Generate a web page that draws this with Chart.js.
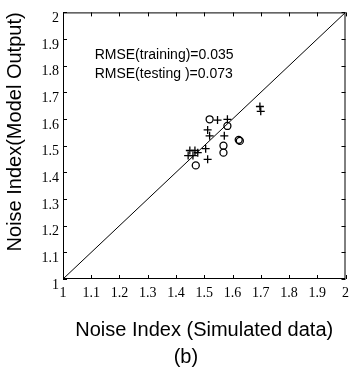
<!DOCTYPE html>
<html>
<head>
<meta charset="utf-8">
<script src="https://cdn.jsdelivr.net/npm/chart.js@4/dist/chart.umd.min.js"></script>
<style>
  html, body { margin: 0; padding: 0; background: #fff; }
  #wrap { width: 355px; height: 368px; }
</style>
</head>
<body>
<div id="wrap"><canvas id="c" width="355" height="368"></canvas></div>
<script>
// ---- data ----
const tickValues = [1, 1.1, 1.2, 1.3, 1.4, 1.5, 1.6, 1.7, 1.8, 1.9, 2];
const tickLabels = ['1', '1.1', '1.2', '1.3', '1.4', '1.5', '1.6', '1.7', '1.8', '1.9', '2'];

// training (+)
const trainX = [1.547, 1.582, 1.512, 1.519, 1.571, 1.505, 1.449, 1.467, 1.477, 1.443, 1.460, 1.512, 1.697, 1.700];
const trainY = [1.596, 1.599, 1.559, 1.537, 1.537, 1.489, 1.482, 1.482, 1.474, 1.463, 1.463, 1.449, 1.647, 1.629];

// testing (o)
const testX = [1.519, 1.582, 1.568, 1.568, 1.470, 1.622, 1.626];
const testY = [1.599, 1.574, 1.500, 1.474, 1.426, 1.522, 1.518];

// 1:1 line
const lineX = [1, 2];
const lineY = [1, 2];

const annotations = ['RMSE(training)=0.035', 'RMSE(testing )=0.073'];
const caption = '(b)';

const toPts = (xs, ys) => xs.map((x, i) => ({ x: x, y: ys[i] }));

const boxTicks = {
  id: 'boxTicks',
  afterDatasetsDraw(chart) {
    const { ctx, chartArea: a, scales: { x, y } } = chart;
    ctx.save();
    ctx.strokeStyle = '#000';
    ctx.lineWidth = 1;
    ctx.strokeRect(a.left + 0.5, a.top + 0.5, a.right - a.left - 1, a.bottom - a.top - 1);
    const L = 4;
    ctx.beginPath();
    tickValues.forEach(v => {
      const px = Math.round(x.getPixelForValue(v)) + 0.5;
      ctx.moveTo(px, a.bottom); ctx.lineTo(px, a.bottom - L);
      ctx.moveTo(px, a.top); ctx.lineTo(px, a.top + L);
      const py = Math.round(y.getPixelForValue(v)) + 0.5;
      ctx.moveTo(a.left, py); ctx.lineTo(a.left + L, py);
      ctx.moveTo(a.right, py); ctx.lineTo(a.right - L, py);
    });
    ctx.stroke();
    // annotation text
    ctx.fillStyle = '#000';
    ctx.font = '14px "Liberation Sans", Arial, sans-serif';
    ctx.textAlign = 'left';
    ctx.textBaseline = 'middle';
    const tx = x.getPixelForValue(1.112);
    ctx.fillText(annotations[0], tx, y.getPixelForValue(1.840));
    ctx.fillText(annotations[1], tx, y.getPixelForValue(1.770));
    // figure caption
    ctx.font = '20px "Liberation Sans", Arial, sans-serif';
    ctx.textAlign = 'center';
    ctx.fillText(caption, x.getPixelForValue(1.435), chart.height - 11);
    ctx.restore();
  }
};

new Chart(document.getElementById('c'), {
  type: 'scatter',
  data: {
    datasets: [
      {
        type: 'line',
        data: toPts(lineX, lineY),
        borderColor: '#000',
        borderWidth: 1,
        pointRadius: 0,
        fill: false,
        tension: 0
      },
      {
        data: toPts(trainX, trainY),
        pointStyle: 'cross',
        pointRadius: 4,
        borderColor: '#000',
        borderWidth: 1.3
      },
      {
        data: toPts(testX, testY),
        pointStyle: 'circle',
        pointRadius: 3.5,
        backgroundColor: 'rgba(255,255,255,0)',
        borderColor: '#000',
        borderWidth: 1.3
      }
    ]
  },
  plugins: [boxTicks],
  options: {
    responsive: false,
    animation: false,
    events: [],
    layout: { padding: { top: 7, right: 5, left: 0, bottom: 0 } },
    plugins: { legend: { display: false }, tooltip: { enabled: false } },
    scales: {
      x: {
        type: 'linear',
        min: 1, max: 2,
        afterBuildTicks(s) { s.ticks = tickValues.map(v => ({ value: v })); },
        afterFit(s) { s.height = 89; },
        grid: { display: false, drawTicks: false },
        border: { display: false },
        ticks: {
          callback: (v, i) => tickLabels[i],
          color: '#000',
          maxRotation: 0,
          autoSkip: false,
          padding: 6,
          font: { family: '"Liberation Serif", "Times New Roman", serif', size: 14 }
        },
        title: {
          display: true,
          text: 'Noise Index (Simulated data)',
          color: '#000',
          font: { family: '"Liberation Sans", Arial, sans-serif', size: 20 },
          padding: { top: 0, bottom: 26 }
        }
      },
      y: {
        type: 'linear',
        min: 1, max: 2,
        afterBuildTicks(s) { s.ticks = tickValues.map(v => ({ value: v })); },
        afterFit(s) { s.width = 63; },
        grid: { display: false, drawTicks: false },
        border: { display: false },
        ticks: {
          callback: (v, i) => tickLabels[i],
          color: '#000',
          autoSkip: false,
          padding: 4,
          labelOffset: 6,
          font: { family: '"Liberation Serif", "Times New Roman", serif', size: 14 }
        },
        title: {
          display: true,
          text: 'Noise Index(Model Output)',
          align: 'end',
          color: '#000',
          font: { family: '"Liberation Sans", Arial, sans-serif', size: 20 },
          padding: { top: 3, bottom: 0 }
        }
      }
    }
  }
});
</script>
</body>
</html>
